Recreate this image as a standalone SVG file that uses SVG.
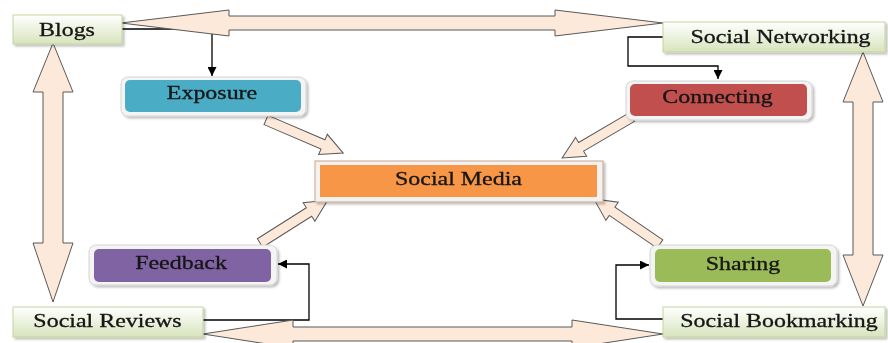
<svg xmlns="http://www.w3.org/2000/svg" width="888" height="343" viewBox="0 0 888 343">
  <style>
    .t { font-family: "Liberation Serif", "Times New Roman", serif; font-size: 19px; fill: #141414; stroke: #141414; stroke-width: 0.3; text-anchor: middle; }
    .leaf { fill: url(#leafGrad); stroke: #c3d69b; stroke-width: 1; }
    .frame { fill: #f4f4f4; stroke: #d4d4d4; stroke-width: 1; }
    .blk { fill: #fde9d9; stroke: #595959; stroke-width: 1; stroke-linejoin: miter; }
    .link { fill: none; stroke: #000; stroke-width: 1.3; }
  </style>
  <defs>
    <linearGradient id="leafGrad" x1="0" y1="0" x2="0" y2="1">
      <stop offset="0" stop-color="#ffffff"/>
      <stop offset="1" stop-color="#d7e4bd"/>
    </linearGradient>
    <filter id="shadow" x="-10%" y="-20%" width="125%" height="150%">
      <feDropShadow dx="2" dy="2" stdDeviation="1.2" flood-color="#000" flood-opacity="0.25"/>
    </filter>
    <marker id="tri" viewBox="0 0 10 10" refX="10" refY="5" markerWidth="9" markerHeight="9" markerUnits="userSpaceOnUse" orient="auto">
      <path d="M0,0 L10,5 L0,10 Z" fill="#000"/>
    </marker>
  </defs>

  <!-- elbow connectors (under the block arrows) -->
  <g id="connectors">
    <polyline class="link" points="122,29 212,29 212,76" marker-end="url(#tri)"/>
    <polyline class="link" points="663,37 628,37 628,66 718,66 718,79" marker-end="url(#tri)"/>
    <polyline class="link" points="203,320 309,320 309,264 278,264" marker-end="url(#tri)"/>
    <polyline class="link" points="663,319 616,319 616,265 649,265" marker-end="url(#tri)"/>

    <!-- double-headed block arrows between the outer sites -->
    <polygon class="blk" points="121,23 229,10 229,16 555,16 555,10 663,23 555,36 555,30 229,30 229,36"/>
    <polygon class="blk" points="203,334 293,320 293,327 572,327 572,320 663,334 572,348 572,341 293,341 293,348"/>
    <polygon class="blk" points="53,43 73,92 63,92 63,243 73,243 53,302 33,243 43,243 43,92 33,92"/>
    <polygon class="blk" points="863,52 883,102 873,102 873,255 883,255 863,306 843,255 853,255 853,102 843,102"/>

    <!-- block arrows into Social Media -->
    <polygon class="blk" transform="translate(266,120) rotate(23.2)" points="0,-5 62,-5 62,-11 84,0 62,11 62,5 0,5"/>
    <polygon class="blk" transform="translate(632,117) rotate(149.6)" points="0,-5 59,-5 59,-11 81,0 59,11 59,5 0,5"/>
    <polygon class="blk" transform="translate(260,243) rotate(-32.3)" points="0,-5 58,-5 58,-11 80,0 58,11 58,5 0,5"/>
    <polygon class="blk" transform="translate(660,244) rotate(-145.7)" points="0,-5 58,-5 58,-11 80,0 58,11 58,5 0,5"/>
  </g>

  <!-- outer sites -->
  <g id="blogs" filter="url(#shadow)">
    <rect class="leaf" x="13" y="15" width="109" height="29"/>
    <text class="t" transform="translate(67,35.5) scale(1.26,1)">Blogs</text>
  </g>
  <g id="social-networking" filter="url(#shadow)">
    <rect class="leaf" x="663" y="22" width="222" height="30"/>
    <text class="t" transform="translate(780.5,42.5) scale(1.26,1)">Social Networking</text>
  </g>
  <g id="social-reviews" filter="url(#shadow)">
    <rect class="leaf" x="13" y="307" width="190" height="30"/>
    <text class="t" transform="translate(107.5,326.7) scale(1.26,1)">Social Reviews</text>
  </g>
  <g id="social-bookmarking" filter="url(#shadow)">
    <rect class="leaf" x="663" y="307" width="222" height="30"/>
    <text class="t" transform="translate(779,327.3) scale(1.26,1)">Social Bookmarking</text>
  </g>

  <!-- activities -->
  <g id="exposure" filter="url(#shadow)">
    <rect class="frame" x="121" y="77" width="185" height="39" rx="7"/>
    <rect x="125" y="80" width="176" height="32" rx="5" fill="#4bacc6"/>
    <text class="t" transform="translate(212,99) scale(1.26,1)">Exposure</text>
  </g>
  <g id="connecting" filter="url(#shadow)">
    <rect class="frame" x="626" y="81" width="186" height="39" rx="7"/>
    <rect x="630" y="84" width="177" height="32" rx="5" fill="#c0504d"/>
    <text class="t" transform="translate(717.5,103.3) scale(1.26,1)">Connecting</text>
  </g>
  <g id="feedback" filter="url(#shadow)">
    <rect class="frame" x="89" y="245" width="188" height="40" rx="7"/>
    <rect x="94" y="249" width="177" height="33" rx="5" fill="#8064a2"/>
    <text class="t" transform="translate(181,269.3) scale(1.26,1)">Feedback</text>
  </g>
  <g id="sharing" filter="url(#shadow)">
    <rect class="frame" x="650" y="245" width="187" height="41" rx="7"/>
    <rect x="655" y="249" width="176" height="33" rx="5" fill="#9bbb59"/>
    <text class="t" transform="translate(743,270) scale(1.26,1)">Sharing</text>
  </g>

  <!-- centre -->
  <g id="social-media" filter="url(#shadow)">
    <rect x="315" y="161" width="288" height="41" fill="#f2f2f2" stroke="#c9a488" stroke-width="1"/>
    <rect x="320" y="165" width="277" height="32" fill="#f79646"/>
    <text class="t" transform="translate(458.5,185) scale(1.26,1)">Social Media</text>
  </g>
</svg>
